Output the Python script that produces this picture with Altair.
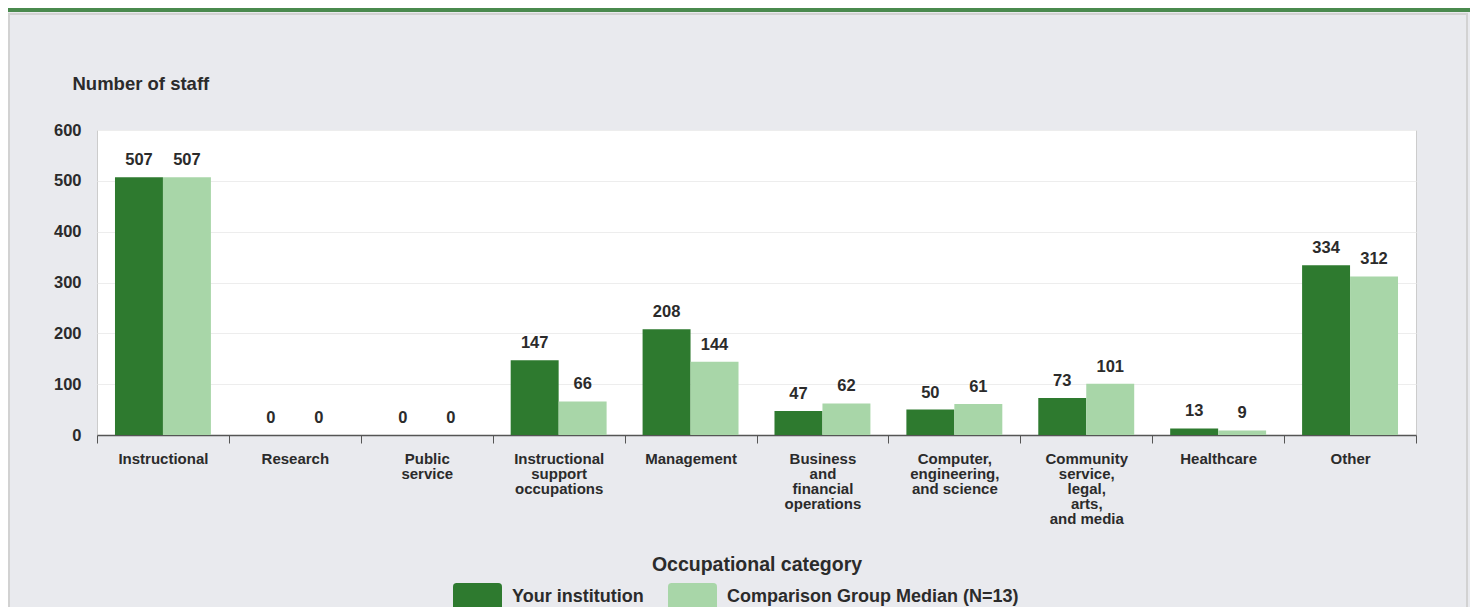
import altair as alt
import pandas as pd

categories = [
    "Instructional", "Research", "Public|service", "Instructional|support|occupations",
    "Management", "Business|and|financial|operations", "Computer,|engineering,|and science",
    "Community|service,|legal,|arts,|and media", "Healthcare", "Other",
]
series_names = ["Your institution", "Comparison Group Median (N=13)"]
your_institution = [507, 0, 0, 147, 208, 47, 50, 73, 13, 334]
comparison_median = [507, 0, 0, 66, 144, 62, 61, 101, 9, 312]
y_ticks = [0, 100, 200, 300, 400, 500, 600]

rows = []
for c, a, b in zip(categories, your_institution, comparison_median):
    rows.append({"category": c, "group": series_names[0], "value": a})
    rows.append({"category": c, "group": series_names[1], "value": b})
df = pd.DataFrame(rows)

DARK = "#2e7a2f"
LIGHT = "#a8d6a8"
FONT = "Liberation Sans"
TXT = "#2b2b2b"

PW, PH = 1319, 305
PAD_L, PAD_T, PAD_R, PAD_B = 89, 122, 54, 172

x_enc = alt.X(
    "category:N", sort=categories,
    scale=alt.Scale(paddingInner=0, paddingOuter=0),
    axis=alt.Axis(
        title="Occupational category", labelAngle=0,
        labelExpr="datum.value ? split(datum.value, '|') : ''",
        labelFont=FONT, labelFontSize=15, labelFontWeight="bold", labelColor=TXT,
        labelLineHeight=15, labelBaseline="top", labelPadding=8, tickBand="extent",
        tickSize=8, tickColor="#555", domainColor="#555", domainWidth=1.5,
        labelLimit=0,
        titleFont=FONT, titleFontSize=19.5, titleFontWeight="bold", titleColor=TXT,
        titleY=135, titleBaseline="alphabetic", grid=False,
    ),
)
xo = alt.XOffset("group:N", sort=series_names,
                 scale=alt.Scale(paddingInner=0, paddingOuter=0.375))
y_enc = alt.Y(
    "value:Q", scale=alt.Scale(domain=[0, 600], nice=False),
    axis=alt.Axis(
        values=y_ticks, title="Number of staff", titleAngle=0, titleAlign="left",
        titleX=-25, titleY=-41, titleBaseline="alphabetic", titleFont=FONT, titleFontSize=18.5,
        titleFontWeight="bold", titleColor=TXT,
        labelFont=FONT, labelFontSize=16.5, labelFontWeight="bold", labelColor=TXT,
        labelPadding=16, ticks=False, domain=False, gridColor="#ededed",
    ),
)
color = alt.Color(
    "group:N", sort=series_names,
    scale=alt.Scale(domain=series_names, range=[DARK, LIGHT]),
    legend=alt.Legend(
        title=None, orient="none", direction="horizontal", legendX=356, legendY=442,
        symbolType="M-0.85,-0.55H0.85Q1,-0.55 1,-0.4V0.4Q1,0.55 0.85,0.55H-0.85Q-1,0.55 -1,0.4V-0.4Q-1,-0.55 -0.85,-0.55Z",
        symbolSize=2401, symbolStrokeWidth=0,
        symbolOpacity=1, labelFont=FONT, labelFontSize=18, labelFontWeight="bold",
        labelColor=TXT, labelOffset=10, columnPadding=24, padding=0, labelLimit=0,
    ),
)

bars = alt.Chart(df).mark_bar().encode(x=x_enc, xOffset=xo, y=y_enc, color=color)
labels = alt.Chart(df).mark_text(
    font=FONT, fontSize=16.5, fontWeight="bold", color=TXT, baseline="alphabetic", dy=-12
).encode(x=alt.X("category:N", sort=categories), xOffset=xo, y="value:Q", text="value:Q")

dummy = pd.DataFrame({"a": [0]})
green_bar = alt.Chart(dummy).mark_rect(color="#4a8a4e").encode(
    x=alt.value(-PAD_L), x2=alt.value(PW + PAD_R), y=alt.value(-PAD_T), y2=alt.value(-PAD_T + 4)
)
panel_border = alt.Chart(dummy).mark_rect(fill="transparent", stroke="#d2d2d2", strokeWidth=2).encode(
    x=alt.value(-PAD_L + 1), x2=alt.value(PW + PAD_R - 3), y=alt.value(-PAD_T + 6), y2=alt.value(PH + PAD_B + 2)
)

chart = alt.layer(bars, labels, green_bar, panel_border).properties(
    width=PW, height=PH,
    autosize=alt.AutoSizeParams(type="none"),
    padding={"left": PAD_L, "top": PAD_T, "right": PAD_R, "bottom": PAD_B},
    background="#e9eaee",
).configure_view(stroke="#cccccc", fill="white")

chart.save("out.html", embed_options={"renderer": "svg", "actions": False})
